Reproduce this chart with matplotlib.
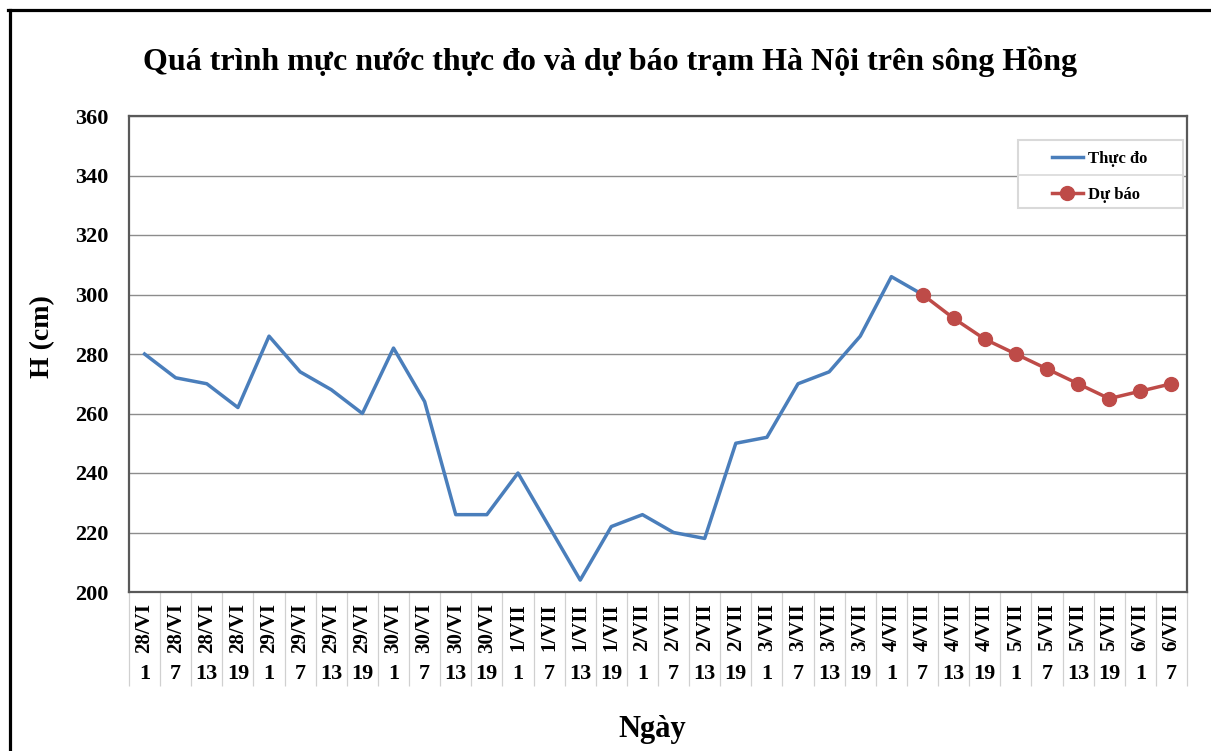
import matplotlib
matplotlib.use("Agg")
import matplotlib.pyplot as plt
from matplotlib.patches import Rectangle
from matplotlib.lines import Line2D
import numpy as np

# category labels (two rows: day/month and hour)
days = (["28/VI"] * 4 + ["29/VI"] * 4 + ["30/VI"] * 4 + ["1/VII"] * 4 +
        ["2/VII"] * 4 + ["3/VII"] * 4 + ["4/VII"] * 4 + ["5/VII"] * 4 +
        ["6/VII"] * 2)
hours = ["1", "7", "13", "19"] * 8 + ["1", "7"]

# observed water level (cm), 28/VI 1h -> 4/VII 7h
observed = [280, 272, 270, 262, 286, 274, 268, 260, 282, 264, 226, 226,
            240, 222, 204, 222, 226, 220, 218, 250, 252, 270, 274, 286,
            306, 300]
# forecast (cm), 4/VII 7h -> 6/VII 7h
forecast = [300, 292, 285, 280, 275, 270, 265, 267.5, 270]

yticks = [200, 220, 240, 260, 280, 300, 320, 340, 360]

serif = "Liberation Serif"
plt.rcParams["font.family"] = [serif, "DejaVu Serif"]
plt.rcParams["font.weight"] = "bold"

x_all = np.arange(len(days))
x_obs = x_all[:len(observed)]
x_fc = x_all[len(observed) - 1:len(observed) - 1 + len(forecast)]

fig = plt.figure(figsize=(12.11, 7.51), dpi=100)
ax = fig.add_axes([129 / 1211, 1 - 592 / 751, 1058 / 1211, 476 / 751])

ax.plot(x_obs, observed, color="#4A7EBB", lw=2.5, label="Thực đo", zorder=3)
ax.plot(x_fc, forecast, color="#BE4B48", lw=2.5, marker="o", ms=10,
        label="Dự báo", zorder=4)

ax.set_xlim(-0.5, len(days) - 0.5)
ax.set_ylim(200, 360)
ax.set_yticks(yticks)
ax.set_yticklabels([str(v) for v in yticks], fontsize=16, fontweight="bold")
ax.tick_params(axis="y", length=0, pad=15)
ax.grid(axis="y", color="#8C8C8C", lw=1.0)
ax.set_axisbelow(True)
for s in ax.spines.values():
    s.set_color("#595959")
    s.set_linewidth(1.6)

# date row
ax.set_xticks(x_all)
ax.set_xticklabels(days, rotation=90, fontsize=15, fontweight="bold")
ax.tick_params(axis="x", which="major", length=0, pad=8)
# separators between categories
ax.set_xticks(np.arange(-0.5, len(days), 1.0), minor=True)
ax.tick_params(axis="x", which="minor", length=67.5, width=0.9,
               color="#D0D0D0", direction="out")

# hour row
sec = ax.secondary_xaxis(-0.152)
sec.set_xticks(x_all)
sec.set_xticklabels(hours, fontsize=16, fontweight="bold")
sec.tick_params(axis="x", length=0, pad=0)
sec.spines["bottom"].set_visible(False)

ax.set_ylabel("H (cm)", fontsize=20, fontweight="bold")
ax.yaxis.set_label_coords(-0.07, 0.536)
fig.text(652 / 1211, 1 - 729 / 751, "Ngày", fontsize=22, fontweight="bold",
         ha="center", va="center")
fig.text(610 / 1211, 1 - 62 / 751,
         "Quá trình mực nước thực đo và dự báo trạm Hà Nội trên sông Hồng",
         fontsize=23, fontweight="bold", ha="center", va="center")

# legend with boxed frame and divider
leg = ax.legend(loc="upper left", bbox_to_anchor=(0.872, 0.926),
                frameon=False, handlelength=1.9,
                handletextpad=0.3, labelspacing=1.2, borderpad=0,
                borderaxespad=0, prop={"family": serif, "weight": "bold",
                                       "size": 12})
ax.add_patch(Rectangle((0.840, 0.806), 0.156, 0.144, transform=ax.transAxes,
                       fill=True, facecolor="white", edgecolor="#D9D9D9",
                       lw=1.5, zorder=5))
leg.set_zorder(6)
ax.add_line(Line2D([0.840, 0.996], [0.876, 0.876], transform=ax.transAxes,
                   color="#D9D9D9", lw=1.2, zorder=5))

# outer frame (left and top edges visible)
fig.add_artist(Line2D([9.5 / 1211, 9.5 / 1211], [0, 1 - 9.5 / 751],
                      color="black", lw=2.3))
fig.add_artist(Line2D([8 / 1211, 1], [1 - 9.5 / 751, 1 - 9.5 / 751],
                      color="black", lw=2.3))

fig.savefig("out.png", dpi=100)
